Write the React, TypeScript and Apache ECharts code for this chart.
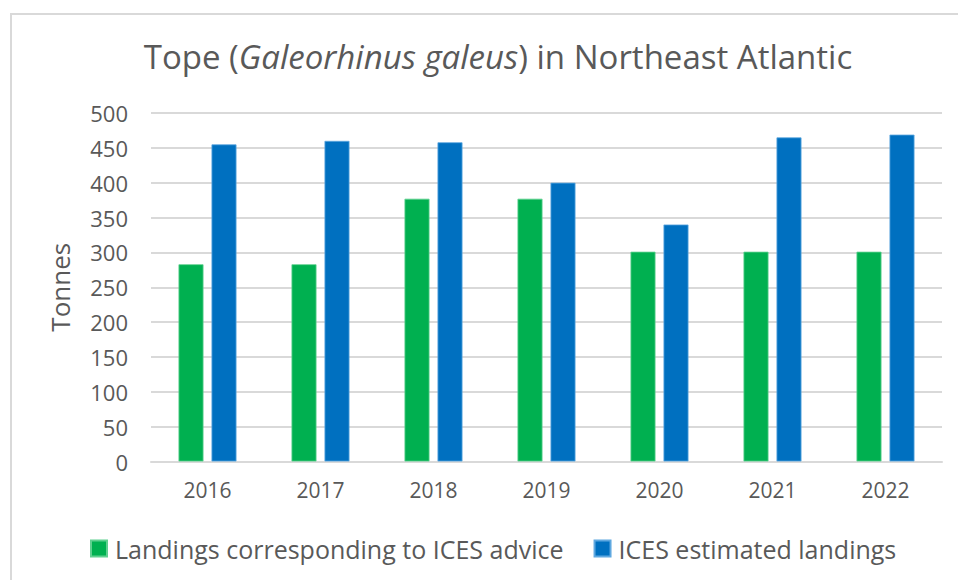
import React, { useEffect, useRef } from "react";
import * as echarts from "echarts";

const years = ["2016", "2017", "2018", "2019", "2020", "2021", "2022"];
const adviceLandings = [283, 283, 377, 377, 301, 301, 301];
const estimatedLandings = [455, 460, 458, 400, 340, 465, 469];
const seriesNames = ["Landings corresponding to ICES advice", "ICES estimated landings"];
const FONT = "Open Sans";
const GREY = "#595959";

export default function App() {
  const ref = useRef<HTMLDivElement>(null);
  useEffect(() => {
    document.body.style.margin = "0";
    if (!ref.current) return;
    const chart = echarts.init(ref.current, null, { renderer: "svg" });
    chart.setOption({
      animation: false,
      backgroundColor: "#ffffff",
      graphic: [
        {
          type: "rect",
          shape: { x: 11, y: 14, width: 960, height: 600 },
          style: { fill: "none", stroke: "#d9d9d9", lineWidth: 2 },
          silent: true,
        },
      ],
      title: {
        text: "Tope ({i|Galeorhinus galeus}) in Northeast Atlantic",
        left: 493,
        textAlign: "center",
        top: 35,
        textStyle: {
          fontFamily: FONT,
          fontSize: 33,
          fontWeight: "normal",
          color: GREY,
          rich: {
            i: { fontFamily: FONT, fontSize: 33, fontStyle: "italic", color: GREY },
          },
        },
      },
      legend: {
        left: 90,
        top: 536,
        padding: 0,
        itemWidth: 16,
        itemHeight: 16,
        itemGap: 30,
        icon: "rect",
        textStyle: { fontFamily: FONT, fontSize: 25, color: GREY, padding: [0, 0, 0, 3] },
        data: seriesNames,
      },
      grid: { left: 151, right: 16, top: 113, bottom: 118.5, containLabel: false },
      xAxis: {
        type: "category",
        data: years,
        axisLine: { lineStyle: { color: "#d9d9d9", width: 2 } },
        axisTick: { show: false },
        axisLabel: { fontFamily: FONT, fontSize: 21, color: GREY, margin: 18 },
      },
      yAxis: {
        type: "value",
        min: 0,
        max: 500,
        interval: 50,
        name: "Tonnes",
        nameLocation: "middle",
        nameRotate: 90,
        nameGap: 78,
        nameTextStyle: { fontFamily: FONT, fontSize: 26, color: GREY },
        axisLine: { show: false },
        axisTick: { show: false },
        splitLine: { lineStyle: { color: "#d9d9d9", width: 2 } },
        axisLabel: { fontFamily: FONT, fontSize: 22, color: GREY, margin: 23 },
      },
      series: [
        {
          name: seriesNames[0],
          type: "bar",
          data: adviceLandings,
          barWidth: 25,
          barGap: "32%",
          itemStyle: { color: "#00B050", borderColor: "#5fd08f", borderWidth: 0.8 },
        },
        {
          name: seriesNames[1],
          type: "bar",
          data: estimatedLandings,
          barWidth: 25,
          itemStyle: { color: "#0070C0", borderColor: "#5fa8e0", borderWidth: 0.8 },
        },
      ],
    });
    return () => chart.dispose();
  }, []);
  return <div ref={ref} style={{ width: 958, height: 580 }} />;
}
